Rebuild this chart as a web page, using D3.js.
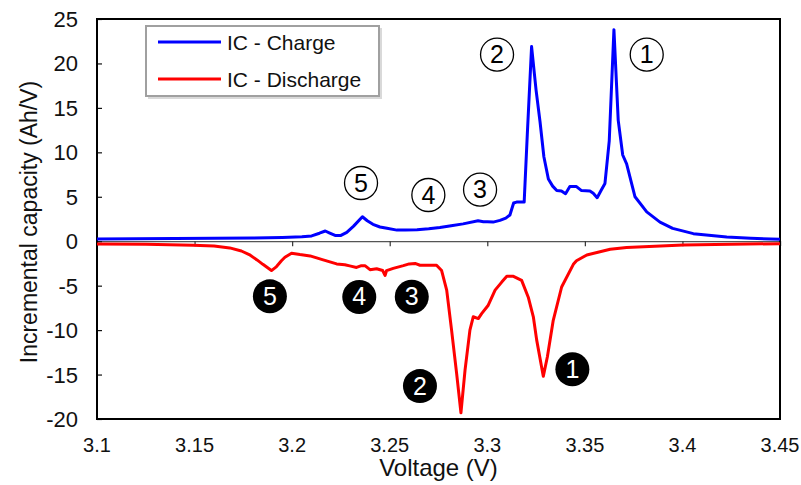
<!DOCTYPE html>
<html>
<head>
<meta charset="utf-8">
<script src="https://cdn.jsdelivr.net/npm/d3@7"></script>
<style>
  body { margin: 0; background: #fff; }
  text { font-family: "Liberation Sans", Arial, sans-serif; }
</style>
</head>
<body>
<svg id="chart" width="801" height="485"></svg>
<script>
// charge curve (V, Ah/V)
var chargeV = [3.100, 3.120, 3.140, 3.160, 3.180, 3.195, 3.205, 3.210, 3.214, 3.217, 3.219, 3.222, 3.225, 3.228, 3.2315, 3.236, 3.2385, 3.2414, 3.245, 3.2486, 3.2537, 3.258, 3.264, 3.270, 3.2757, 3.2815, 3.2876, 3.2953, 3.298, 3.300, 3.303, 3.3065, 3.3095, 3.3116, 3.3135, 3.315, 3.3189, 3.3205, 3.3227, 3.325, 3.327, 3.329, 3.3313, 3.3335, 3.3356, 3.338, 3.3401, 3.3423, 3.3457, 3.3483, 3.3526, 3.3543, 3.3563, 3.3585, 3.3603, 3.3625, 3.3649, 3.3671, 3.3694, 3.3714, 3.3757, 3.3817, 3.3885, 3.395, 3.4056, 3.4227, 3.435, 3.450];
var chargeIC = [0.25, 0.27, 0.30, 0.33, 0.36, 0.42, 0.50, 0.60, 0.90, 1.15, 0.95, 0.65, 0.65, 1.0, 1.7, 2.75, 2.3, 1.9, 1.6, 1.45, 1.25, 1.25, 1.3, 1.4, 1.55, 1.75, 1.95, 2.3, 2.2, 2.2, 2.15, 2.35, 2.6, 2.95, 4.3, 4.4, 4.4, 12, 21.9, 17, 13.5, 9.5, 7.0, 6.2, 5.7, 5.65, 5.35, 6.15, 6.15, 5.7, 5.65, 5.4, 4.9, 5.8, 6.5, 11.3, 23.8, 13.6, 9.7, 8.7, 5.0, 3.3, 2.15, 1.45, 0.85, 0.48, 0.33, 0.22];

// discharge curve
var dischV = [3.100, 3.125, 3.1493, 3.160, 3.168, 3.174, 3.178, 3.182, 3.185, 3.1894, 3.192, 3.1945, 3.1963, 3.1997, 3.204, 3.2092, 3.2159, 3.2228, 3.227, 3.230, 3.233, 3.2355, 3.2373, 3.2399, 3.2433, 3.2464, 3.2476, 3.2484, 3.2518, 3.257, 3.260, 3.263, 3.2655, 3.269, 3.274, 3.2766, 3.2792, 3.2817, 3.2843, 3.2865, 3.2886, 3.2911, 3.2928, 3.2954, 3.2971, 3.3005, 3.304, 3.3074, 3.310, 3.3134, 3.3176, 3.321, 3.3236, 3.3253, 3.3287, 3.3308, 3.3338, 3.3381, 3.3441, 3.3457, 3.351, 3.363, 3.3714, 3.4004, 3.425, 3.450];
var dischIC = [-0.3, -0.35, -0.45, -0.55, -0.75, -1.1, -1.5, -2.1, -2.6, -3.3, -2.85, -2.2, -1.8, -1.35, -1.5, -1.65, -2.1, -2.55, -2.65, -2.8, -2.95, -2.75, -2.75, -3.2, -3.1, -3.3, -3.85, -3.3, -3.05, -2.75, -2.55, -2.5, -2.7, -2.7, -2.7, -3.3, -5.5, -10.0, -14.9, -19.3, -14.5, -10.0, -8.5, -8.7, -8.15, -7.2, -5.5, -4.6, -3.95, -3.95, -4.4, -6.3, -8.5, -11.1, -15.2, -13.0, -8.9, -5.15, -2.6, -2.2, -1.55, -0.9, -0.7, -0.42, -0.33, -0.28];

var xTicks = [3.1, 3.15, 3.2, 3.25, 3.3, 3.35, 3.4, 3.45];
var yTicks = [-20, -15, -10, -5, 0, 5, 10, 15, 20, 25];

// peak labels: open circles for charge, filled for discharge
var chargeLabels = ["1", "2", "3", "4", "5"];
var chargeLabelV = [3.3817, 3.305, 3.2963, 3.2698, 3.2353];
var chargeLabelIC = [21.0, 21.0, 5.8, 5.2, 6.55];
var dischLabels = ["1", "2", "3", "4", "5"];
var dischLabelV = [3.3436, 3.2655, 3.2613, 3.2344, 3.1886];
var dischLabelIC = [-14.4, -16.3, -6.25, -6.27, -6.2];

var seriesNames = ["IC - Charge", "IC - Discharge"];
var seriesColors = ["#0000ff", "#ff0000"];

var svg = d3.select("#chart");
var plotL = 97, plotR = 780, plotT = 19, plotB = 419;

var x = d3.scaleLinear().domain([3.1, 3.45]).range([plotL, plotR]);
var y = d3.scaleLinear().domain([-20, 25]).range([plotB, plotT]);

// zero axis with ticks pointing down
var xAxis = d3.axisBottom(x).tickValues(xTicks).tickSize(5).tickFormat("");
var gx = svg.append("g")
    .attr("transform", "translate(0," + y(0) + ")")
    .call(xAxis);
gx.select(".domain").attr("stroke", "#555").attr("stroke-width", 1.2);
gx.selectAll(".tick line").attr("stroke", "#333").attr("stroke-width", 1.2);

// x tick labels along the bottom
svg.append("g").selectAll("text")
    .data(xTicks)
    .enter().append("text")
    .attr("x", function (d) { return x(d); })
    .attr("y", 452)
    .attr("text-anchor", "middle")
    .attr("font-size", "20px")
    .attr("fill", "#111")
    .text(function (d) { return String(d); });

// y axis, ticks pointing inward
var yAxis = d3.axisRight(y).tickValues(yTicks).tickSize(5).tickFormat("");
var gy = svg.append("g")
    .attr("transform", "translate(" + plotL + ",0)")
    .call(yAxis);
gy.select(".domain").remove();
gy.selectAll(".tick line").attr("stroke", "#111").attr("stroke-width", 1.2);

svg.append("g").selectAll("text")
    .data(yTicks)
    .enter().append("text")
    .attr("x", 78)
    .attr("y", function (d) { return y(d) + 8; })
    .attr("text-anchor", "end")
    .attr("font-size", "22px")
    .attr("fill", "#111")
    .text(function (d) { return String(d); });

// frame
svg.append("rect")
    .attr("x", plotL).attr("y", plotT)
    .attr("width", plotR - plotL).attr("height", plotB - plotT)
    .attr("fill", "none")
    .attr("stroke", "#000")
    .attr("stroke-width", 2);

// axis titles
svg.append("text")
    .attr("x", (plotL + plotR) / 2)
    .attr("y", 476)
    .attr("text-anchor", "middle")
    .attr("font-size", "24px")
    .attr("fill", "#111")
    .text("Voltage (V)");

svg.append("text")
    .attr("transform", "translate(37,222) rotate(-90)")
    .attr("text-anchor", "middle")
    .attr("font-size", "23px")
    .attr("fill", "#111")
    .text("Incremental capacity (Ah/V)");

// curves
var line = d3.line()
    .x(function (d) { return x(d[0]); })
    .y(function (d) { return y(d[1]); });

var dischData = d3.zip(dischV, dischIC);
var chargeData = d3.zip(chargeV, chargeIC);

svg.append("path")
    .datum(dischData)
    .attr("d", line)
    .attr("fill", "none")
    .attr("stroke", seriesColors[1])
    .attr("stroke-width", 3)
    .attr("stroke-linejoin", "round");

svg.append("path")
    .datum(chargeData)
    .attr("d", line)
    .attr("fill", "none")
    .attr("stroke", seriesColors[0])
    .attr("stroke-width", 3)
    .attr("stroke-linejoin", "round");

// circled peak numbers
var openG = svg.append("g").selectAll("g")
    .data(d3.range(chargeLabels.length))
    .enter().append("g")
    .attr("transform", function (i) {
        return "translate(" + x(chargeLabelV[i]) + "," + y(chargeLabelIC[i]) + ")";
    });
openG.append("circle")
    .attr("r", 16.5)
    .attr("fill", "#fff")
    .attr("stroke", "#000")
    .attr("stroke-width", 1.3);
openG.append("text")
    .attr("y", 8.5)
    .attr("text-anchor", "middle")
    .attr("font-family", "'Liberation Serif', 'DejaVu Serif', serif")
    .attr("font-size", "25px")
    .attr("fill", "#000")
    .text(function (i) { return chargeLabels[i]; });

var fillG = svg.append("g").selectAll("g")
    .data(d3.range(dischLabels.length))
    .enter().append("g")
    .attr("transform", function (i) {
        return "translate(" + x(dischLabelV[i]) + "," + y(dischLabelIC[i]) + ")";
    });
fillG.append("circle")
    .attr("r", 17)
    .attr("fill", "#000");
fillG.append("text")
    .attr("y", 8.5)
    .attr("text-anchor", "middle")
    .attr("font-family", "'Liberation Serif', 'DejaVu Serif', serif")
    .attr("font-size", "25px")
    .attr("fill", "#fff")
    .text(function (i) { return dischLabels[i]; });

// legend
var lg = svg.append("g");
lg.append("rect")
    .attr("x", 148).attr("y", 28)
    .attr("width", 234).attr("height", 71)
    .attr("fill", "#d9d9d9");
lg.append("rect")
    .attr("x", 146).attr("y", 26)
    .attr("width", 233).attr("height", 70)
    .attr("fill", "#fff")
    .attr("stroke", "#a0a0a0")
    .attr("stroke-width", 2);
seriesNames.forEach(function (name, i) {
    var ly = 42 + i * 37;
    lg.append("line")
        .attr("x1", 158).attr("x2", 221)
        .attr("y1", ly).attr("y2", ly)
        .attr("stroke", seriesColors[i])
        .attr("stroke-width", 3);
    lg.append("text")
        .attr("x", 227)
        .attr("y", ly + 8)
        .attr("font-size", "21px")
        .attr("fill", "#111")
        .text(name);
});
</script>
</body>
</html>
